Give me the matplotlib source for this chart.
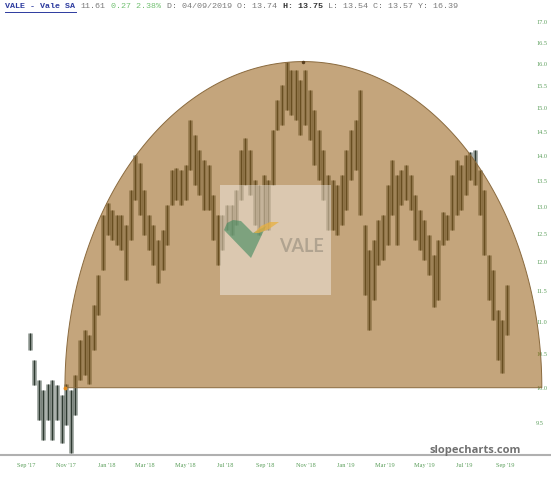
import numpy as np
import pandas as pd
import matplotlib
matplotlib.use("Agg")
import matplotlib.pyplot as plt
import matplotlib.dates as mdates
from matplotlib.patches import Polygon, Rectangle
from matplotlib.ticker import FixedLocator, FormatStrFormatter, NullLocator

# weekly ranges of VALE, one bar per week starting Wed 2017-09-06
week_start = "2017-09-06"
week_high = [10.82, 10.41, 10.11, 9.96, 10.06, 10.11, 10.04, 9.89, 10.06, 9.96,
             10.18, 10.71, 10.87, 10.79, 11.27, 11.77, 12.85, 13.07, 12.94, 12.85,
             12.85, 12.66, 13.32, 14.02, 13.85, 13.32, 12.85, 12.66, 12.39, 12.57,
             13.03, 13.71, 13.75, 13.71, 13.81, 14.75, 14.43, 14.12, 13.91, 13.81,
             13.22, 12.85, 12.85, 13.03, 13.03, 13.32, 14.12, 14.36, 14.12, 13.52,
             13.42, 13.61, 13.52, 14.53, 15.18, 15.51, 16.04, 15.86, 15.86, 15.63,
             15.86, 15.40, 14.96, 14.53, 14.12, 13.61, 13.52, 13.42, 13.61, 14.12,
             14.53, 14.75, 15.40, 12.66, 12.21, 12.39, 12.75, 12.85, 13.42, 13.91,
             13.61, 13.71, 13.81, 13.61, 13.22, 12.94, 12.75, 12.48, 12.12, 12.39,
             12.90, 12.85, 13.61, 13.91, 13.81, 14.02, 14.08, 14.12, 13.71, 13.32,
             12.12, 11.86, 11.19, 11.03, 11.61]
week_low = [10.56, 10.04, 9.54, 9.27, 9.54, 9.27, 9.54, 9.23, 9.47, 9.09,
            9.61, 10.11, 10.18, 10.06, 10.56, 11.11, 11.86, 12.48, 12.39, 12.30,
            12.21, 11.69, 12.39, 13.13, 12.85, 12.48, 12.21, 11.95, 11.64, 11.86,
            12.30, 13.03, 13.13, 13.03, 13.13, 13.71, 13.42, 13.22, 12.94, 12.94,
            12.39, 11.95, 12.21, 12.57, 12.48, 12.66, 13.13, 13.42, 13.22, 12.66,
            12.48, 12.57, 12.57, 13.42, 14.53, 14.64, 14.96, 14.85, 14.75, 14.43,
            14.64, 14.32, 13.81, 13.52, 13.13, 12.57, 12.57, 12.48, 12.66, 12.94,
            13.52, 13.71, 12.85, 11.44, 10.87, 11.36, 11.95, 12.03, 12.30, 12.85,
            12.30, 13.03, 13.13, 12.94, 12.39, 12.21, 12.03, 11.77, 11.24, 11.36,
            12.30, 12.39, 12.57, 12.85, 12.94, 13.22, 13.52, 13.42, 12.85, 12.12,
            11.36, 11.03, 10.41, 10.21, 10.79]

y_ticks = [9.5, 10.0, 10.5, 11.0, 11.5, 12.0, 12.5, 13.0, 13.5, 14.0, 14.5,
           15.0, 15.5, 16.0, 16.5, 17.0]
x_ticks = ["2017-09-01", "2017-11-01", "2018-01-01", "2018-03-01", "2018-05-01",
           "2018-07-01", "2018-09-01", "2018-11-01", "2019-01-01", "2019-03-01",
           "2019-05-01", "2019-07-01", "2019-09-01"]

# the drawn half-ellipse
arc_start = "2017-10-30"
arc_end = "2019-10-27"
arc_base = 10.0
arc_top = 16.05

header = [  # (char column, text, colour, weight)
    (0, "VALE - Vale SA", "#2c3a9e", "bold"),
    (15, "11.61", "#7a7a7a", "normal"),
    (21, "0.27 2.38%", "#72c072", "normal"),
    (32, "D: 04/09/2019 O: 13.74", "#7a7a7a", "normal"),
    (55, "H: 13.75", "#333333", "bold"),
    (64, "L: 13.54 C: 13.57 Y: 16.39", "#7a7a7a", "normal"),
]

W, H = 551, 480
fig = plt.figure(figsize=(W / 100, H / 100), dpi=100)
ax = fig.add_axes([0, 25 / H, 1, 455 / H])

dates = pd.date_range(week_start, periods=len(week_high), freq="7D")
ax.vlines(dates, week_low, week_high, color="#3b4a3f", lw=3.3, alpha=0.55, zorder=2)
ax.vlines(dates, week_low, week_high, color="#2e3a31", lw=0.9, zorder=2)

ax.set_yscale("log")
ax.set_ylim(9.07, 17.55)
ax.set_xlim(pd.Timestamp("2017-07-23"), pd.Timestamp("2019-11-10"))

ax.yaxis.set_major_locator(FixedLocator(y_ticks))
ax.yaxis.set_minor_locator(NullLocator())
ax.yaxis.set_major_formatter(FormatStrFormatter("%.1f"))
ax.yaxis.tick_right()
ax.tick_params(axis="y", length=0, pad=-15 * 0.72, labelsize=4.5,
               labelcolor="#5a9e5a", labelfontfamily="Liberation Serif")

ax.xaxis.set_major_locator(FixedLocator(mdates.date2num(pd.to_datetime(x_ticks))))
ax.xaxis.set_major_formatter(mdates.DateFormatter("%b '%y"))
ax.tick_params(axis="x", length=0, pad=6, labelsize=4.5,
               labelcolor="#5a9e5a", labelfontfamily="Liberation Serif")

for s in ["top", "left", "right"]:
    ax.spines[s].set_visible(False)
ax.spines["bottom"].set_color("#b0b0b0")
ax.spines["bottom"].set_linewidth(1.5)

# half ellipse in axes coordinates
to_axes = ax.transData + ax.transAxes.inverted()
(x0, yb), (x1, yt) = to_axes.transform([
    [mdates.date2num(pd.Timestamp(arc_start)), arc_base],
    [mdates.date2num(pd.Timestamp(arc_end)), arc_top]])
t = np.linspace(0, np.pi, 300)
pts = np.column_stack([(x0 + x1) / 2 + (x1 - x0) / 2 * np.cos(t), yb + (yt - yb) * np.sin(t)])
ax.add_patch(Polygon(pts, closed=True, transform=ax.transAxes,
                     facecolor=(150 / 255, 95 / 255, 21 / 255), alpha=0.56,
                     edgecolor="none", zorder=3))
ax.add_patch(Polygon(pts, closed=True, transform=ax.transAxes, fill=False,
                     edgecolor="#8a6a3e", lw=0.7, zorder=4))
ax.plot([(x0 + x1) / 2], [yt], "o", ms=1.5, color="#5a4020", transform=ax.transAxes, zorder=5)
ax.plot([x0], [yb], "o", ms=1.8, color="#e08a20", transform=ax.transAxes, zorder=5)

# overlay in pixel coordinates: watermark, header, brand
ov = fig.add_axes([0, 0, 1, 1], zorder=5)
ov.set_xlim(0, W)
ov.set_ylim(H, 0)
ov.axis("off")
ov.patch.set_alpha(0)

ov.add_patch(Rectangle((220, 185), 111, 110, facecolor="white", alpha=0.4, lw=0))
ov.add_patch(Polygon([(224, 230), (227, 223), (233, 220), (241, 221), (253, 233),
                      (266, 226), (251, 258)],
                     facecolor="#3f8a5e", alpha=0.6, lw=0))
ov.add_patch(Polygon([(254, 233), (261, 226), (270, 222), (279, 222), (269, 229), (259, 233)],
                     facecolor="#e8b040", alpha=0.75, lw=0))
ov.text(301, 247, "VALE", fontsize=13, fontweight="bold", color="#b0a390",
        ha="center", va="center", family="Lato")

cw = 5.05
for col, txt, c, wgt in header:
    ov.text(5 + col * cw, 7, txt, fontsize=6.05, color=c, fontweight=wgt,
            family="Liberation Mono", ha="left", va="center")
ov.plot([5, 5 + 14 * cw], [12, 12], color="#2c3a9e", lw=0.7)

ov.text(475, 451, "slopecharts.com", fontsize=8, fontweight="bold", color="#707070",
        ha="center", va="center", family="Open Sans")

fig.savefig("out.png", dpi=100)
